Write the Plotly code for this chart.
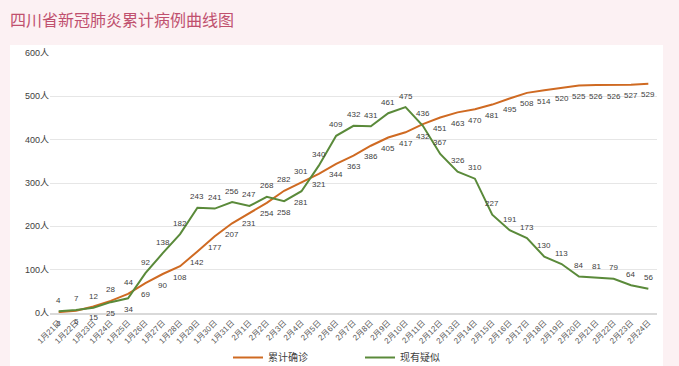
import plotly.graph_objects as go

dates = ["1月21日","1月22日","1月23日","1月24日","1月25日","1月26日","1月27日","1月28日","1月29日","1月30日","1月31日",
         "2月1日","2月2日","2月3日","2月4日","2月5日","2月6日","2月7日","2月8日","2月9日","2月10日",
         "2月11日","2月12日","2月13日","2月14日","2月15日","2月16日","2月17日","2月18日","2月19日","2月20日",
         "2月21日","2月22日","2月23日","2月24日"]
confirmed = [2,5,15,28,44,69,90,108,142,177,207,231,254,282,301,321,344,363,386,405,417,
             436,451,463,470,481,495,508,514,520,525,526,526,527,529]
suspected = [4,7,12,25,34,92,138,182,243,241,256,247,268,258,281,340,409,432,431,461,475,
             432,367,326,310,227,191,173,130,113,84,81,79,64,56]
y_ticks = [0,100,200,300,400,500,600]

# label placement: confirmed below, suspected above, except where lines cross
swap = {"1月24日","1月25日","2月3日","2月4日","2月11日"}

FONT = "Arial, 'Liberation Sans', 'Noto Sans CJK SC', sans-serif"
ORANGE = "#cf6a22"
GREEN = "#5a8a3a"

fig = go.Figure()
fig.add_trace(go.Scatter(x=dates, y=confirmed, name="累计确诊", mode="lines",
                         line=dict(color=ORANGE, width=2), legend="legend"))
fig.add_trace(go.Scatter(x=dates, y=suspected, name="现有疑似", mode="lines",
                         line=dict(color=GREEN, width=2), legend="legend2"))

annotations = []
for d, c, s in zip(dates, confirmed, suspected):
    up_c = d in swap
    annotations.append(dict(x=d, y=c, text=str(c), showarrow=False, yshift=11 if up_c else -11,
                            font=dict(size=8, color="#404040", family=FONT)))
    annotations.append(dict(x=d, y=s, text=str(s), showarrow=False, yshift=-11 if up_c else 11,
                            font=dict(size=8, color="#404040", family=FONT)))

L, R, T, B = 50, 22, 53, 53
W, H = 679, 366
pw, ph = W - L - R, H - T - B
fig.add_shape(type="rect", xref="paper", yref="paper", layer="below",
              x0=(10 - L) / pw, x1=(663 - L) / pw,
              y0=-(B + 5) / ph, y1=(H - B - 45) / ph,
              fillcolor="white", line=dict(width=0))

legend_common = dict(orientation="h", xanchor="left", y=-(355 - 313 - 12) / ph, yanchor="top",
                     font=dict(size=10, family="'Noto Sans CJK SC', sans-serif", color="#404040"),
                     bgcolor="rgba(0,0,0,0)")

fig.update_layout(
    width=W, height=H,
    margin=dict(l=L, r=R, t=T, b=B, autoexpand=False),
    paper_bgcolor="#fcf1f3",
    plot_bgcolor="rgba(0,0,0,0)",
    font=dict(family=FONT, color="#404040"),
    title=dict(text="四川省新冠肺炎累计病例曲线图", xref="container", yref="container",
               x=10 / W, y=1 - 20 / H, xanchor="left", yanchor="middle",
               font=dict(size=16, color="#c0506e", family="'Noto Sans CJK SC', sans-serif")),
    annotations=annotations,
    showlegend=True,
    legend=dict(x=(228 - L) / pw, **legend_common),
    legend2=dict(x=(360 - L) / pw, **legend_common),
    xaxis=dict(type="category", range=[-0.5, len(dates) - 0.5], tickangle=-45, automargin=False,
               tickfont=dict(size=8, color="#595959"), showgrid=False,
               showline=True, linecolor="#d9d9d9", linewidth=2, ticks=""),
    yaxis=dict(range=[0, 600], tickvals=y_ticks, ticktext=[f"{v}人" for v in y_ticks], automargin=False,
               tickfont=dict(size=9, color="#404040"), gridcolor="#e6e6e6", gridwidth=1,
               zeroline=False, showline=False, ticks=""),
)

fig.write_html("out.html", config={"displayModeBar": False},
               post_script="document.body.style.margin='0';document.body.style.overflow='hidden';")
